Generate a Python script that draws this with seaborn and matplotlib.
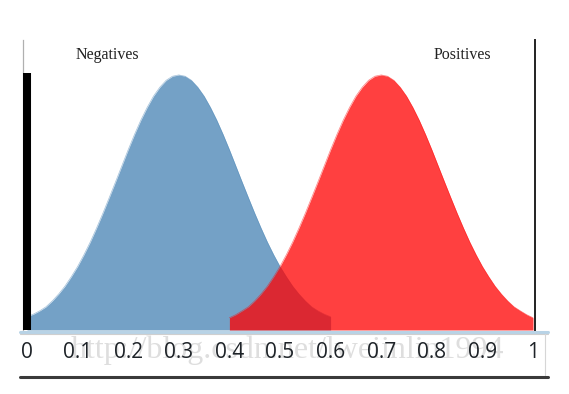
import numpy as np
import pandas as pd
import matplotlib
matplotlib.use("Agg")
import matplotlib.pyplot as plt
from matplotlib.lines import Line2D
import seaborn as sns

# ---- data ----
neg_x = [0.0000, 0.0125, 0.0250, 0.0375, 0.0500, 0.0625, 0.0750, 0.0875, 0.1000,
         0.1125, 0.1250, 0.1375, 0.1500, 0.1625, 0.1750, 0.1875, 0.2000, 0.2125,
         0.2250, 0.2375, 0.2500, 0.2625, 0.2750, 0.2875, 0.3000, 0.3125, 0.3250,
         0.3375, 0.3500, 0.3625, 0.3750, 0.3875, 0.4000, 0.4125, 0.4250, 0.4375,
         0.4500, 0.4625, 0.4750, 0.4875, 0.5000, 0.5125, 0.5250, 0.5375, 0.5500,
         0.5625, 0.5750, 0.5875, 0.6000]
neg_y = [0.052, 0.062, 0.075, 0.091, 0.114, 0.141, 0.172, 0.209, 0.249,
         0.295, 0.345, 0.400, 0.458, 0.519, 0.581, 0.644, 0.707, 0.767,
         0.823, 0.873, 0.917, 0.952, 0.979, 0.995, 1.000, 0.995, 0.979,
         0.952, 0.917, 0.873, 0.823, 0.767, 0.707, 0.644, 0.581, 0.519,
         0.458, 0.400, 0.345, 0.295, 0.249, 0.209, 0.172, 0.141, 0.114,
         0.091, 0.075, 0.062, 0.052]
pos_x = [0.4000, 0.4125, 0.4250, 0.4375, 0.4500, 0.4625, 0.4750, 0.4875, 0.5000,
         0.5125, 0.5250, 0.5375, 0.5500, 0.5625, 0.5750, 0.5875, 0.6000, 0.6125,
         0.6250, 0.6375, 0.6500, 0.6625, 0.6750, 0.6875, 0.7000, 0.7125, 0.7250,
         0.7375, 0.7500, 0.7625, 0.7750, 0.7875, 0.8000, 0.8125, 0.8250, 0.8375,
         0.8500, 0.8625, 0.8750, 0.8875, 0.9000, 0.9125, 0.9250, 0.9375, 0.9500,
         0.9625, 0.9750, 0.9875, 1.0000]
pos_y = [0.048, 0.060, 0.075, 0.091, 0.114, 0.141, 0.172, 0.209, 0.249,
         0.295, 0.345, 0.400, 0.458, 0.519, 0.581, 0.644, 0.707, 0.767,
         0.823, 0.873, 0.917, 0.952, 0.979, 0.995, 1.000, 0.995, 0.979,
         0.952, 0.917, 0.873, 0.823, 0.767, 0.707, 0.644, 0.581, 0.519,
         0.458, 0.400, 0.345, 0.295, 0.249, 0.209, 0.172, 0.141, 0.114,
         0.091, 0.075, 0.060, 0.048]
threshold = 0.0
tick_values = [0.0, 0.1, 0.2, 0.3, 0.4, 0.5, 0.6, 0.7, 0.8, 0.9, 1.0]
tick_labels = ["0", "0.1", "0.2", "0.3", "0.4", "0.5", "0.6", "0.7", "0.8", "0.9", "1"]
class_labels = ["Negatives", "Positives"]
watermark = "http://blog.csdn.net/lweiinlin1994"

neg = pd.DataFrame({"x": neg_x, "y": neg_y})
pos = pd.DataFrame({"x": pos_x, "y": pos_y})

sns.set_theme(style="white")
plt.rcParams["font.family"] = ["Open Sans", "DejaVu Sans"]

W, H = 569, 394
fig = plt.figure(figsize=(W / 100, H / 100), dpi=100, facecolor="white")
ax = fig.add_axes([23 / W, 1 - 330 / H, (535 - 23) / W, (330 - 40) / H])
ax.set_facecolor("white")

blue = (70 / 255, 130 / 255, 180 / 255)
red = (1.0, 0.0, 0.0)

ax.fill_between(neg["x"], 0, neg["y"], color=blue, alpha=0.75, linewidth=0, zorder=2)
sns.lineplot(data=neg, x="x", y="y", ax=ax, color=blue, alpha=0.5, linewidth=0.5, zorder=2)
ax.fill_between(pos["x"], 0, pos["y"], color=red, alpha=0.75, linewidth=0, zorder=3)
sns.lineplot(data=pos, x="x", y="y", ax=ax, color=red, alpha=0.5, linewidth=0.5, zorder=3)

# threshold bar
ax.plot([threshold, threshold], [0, 1.008], color="black",
        linewidth=5.8, solid_capstyle="butt", zorder=4)

ax.set_xlim(-4 / 506, 1 + 2 / 506)
ax.set_ylim(0, 1.137)
ax.set_xlabel("")
ax.set_ylabel("")
ax.set_yticks([])
ax.set_xticks(tick_values)
ax.set_xticklabels(tick_labels, fontsize=15, color="#1e2328")
ax.tick_params(axis="x", length=0, pad=9)

for s in ["top", "bottom"]:
    ax.spines[s].set_visible(False)
ax.spines["left"].set_color("#b0b0b0")
ax.spines["left"].set_linewidth(0.9)
ax.spines["right"].set_color("#222222")
ax.spines["right"].set_linewidth(1.4)

ax.text(0.158, 1.078, class_labels[0], family="Liberation Serif", fontsize=11.5,
        ha="center", va="center", color="#222222")
ax.text(0.860, 1.078, class_labels[1], family="Liberation Serif", fontsize=11.5,
        ha="center", va="center", color="#222222")

# band decorations below the plot
def fline(x0, y0, x1, y1, **kw):
    fig.add_artist(Line2D([x0 / W, x1 / W], [1 - y0 / H, 1 - y1 / H],
                          transform=fig.transFigure, **kw))

fline(20, 331.5, 548, 331.5, color="#b8d3e6", linewidth=2.2)
fline(20, 334, 548, 334, color="#cfcfcf", linewidth=0.8)
fline(545, 334, 545, 375, color="#d6d6d6", linewidth=0.8)
fline(20, 377, 548, 377, color="#3a3a3a", linewidth=2.2)

fig.text(287 / W, 1 - 350 / H, watermark, family="Liberation Serif", fontsize=23,
         color="#dedede", ha="center", va="center", zorder=-1)

fig.savefig("out.png", dpi=100, facecolor="white")
